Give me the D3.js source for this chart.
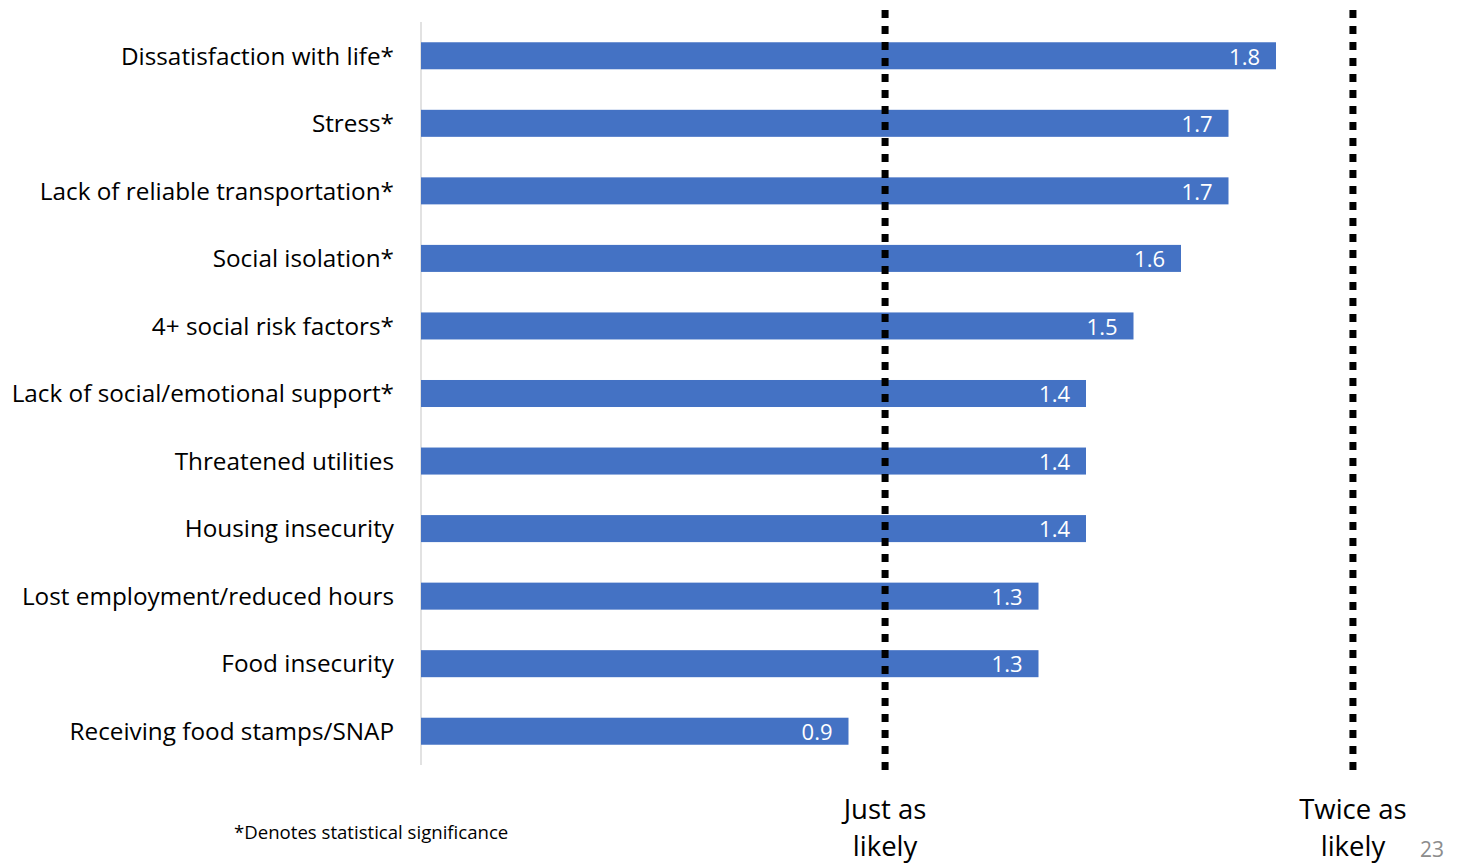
<!DOCTYPE html>
<html>
<head>
<meta charset="utf-8">
<script src="https://cdn.jsdelivr.net/npm/d3@7/dist/d3.min.js"></script>
<style>
  html, body { margin: 0; padding: 0; background: #fff; }
  svg { display: block; font-family: "Open Sans", Lato, sans-serif; }
</style>
</head>
<body>
<svg id="chart" width="1462" height="863"></svg>
<script>
// Odds ratios by social risk factor
const categories = [
  "Dissatisfaction with life*",
  "Stress*",
  "Lack of reliable transportation*",
  "Social isolation*",
  "4+ social risk factors*",
  "Lack of social/emotional support*",
  "Threatened utilities",
  "Housing insecurity",
  "Lost employment/reduced hours",
  "Food insecurity",
  "Receiving food stamps/SNAP"
];
const values = [1.8, 1.7, 1.7, 1.6, 1.5, 1.4, 1.4, 1.4, 1.3, 1.3, 0.9];

// Dotted reference markers and their captions
const refValues = [0.977, 1.962];
const refLabels = [["Just as", "likely"], ["Twice as", "likely"]];

const footnote = "*Denotes statistical significance";
const pageNumber = "23";

const svg = d3.select("#chart");

const x = d3.scaleLinear().domain([0, 2]).range([421, 1371]);
const y = d3.scaleBand().domain(categories).range([22, 765]).paddingInner(0.6).paddingOuter(0.3);

// vertical category axis line
svg.append("line")
  .attr("x1", x(0)).attr("x2", x(0))
  .attr("y1", 22).attr("y2", 765)
  .attr("stroke", "#d9d9d9").attr("stroke-width", 1.5);

// category labels
svg.append("g").selectAll("text")
  .data(categories)
  .join("text")
  .attr("x", 394)
  .attr("y", d => y(d) + y.bandwidth() / 2)
  .attr("dy", "0.36em")
  .attr("text-anchor", "end")
  .attr("font-size", 24.3)
  .attr("fill", "#000")
  .text(d => d);

// bars
const data = categories.map((c, i) => ({ c, v: values[i] }));
svg.append("g").selectAll("rect")
  .data(data)
  .join("rect")
  .attr("x", x(0))
  .attr("y", d => y(d.c))
  .attr("width", d => x(d.v) - x(0))
  .attr("height", y.bandwidth())
  .attr("fill", "#4472c4");

// value labels inside bar ends
svg.append("g").selectAll("text")
  .data(data)
  .join("text")
  .attr("x", d => x(d.v) - 16)
  .attr("y", d => y(d.c) + y.bandwidth() / 2)
  .attr("dy", "0.4em")
  .attr("text-anchor", "end")
  .attr("font-size", 22)
  .attr("fill", "#fff")
  .text(d => d.v.toFixed(1));

// dotted reference lines
svg.append("g").selectAll("line")
  .data(refValues)
  .join("line")
  .attr("x1", d => x(d)).attr("x2", d => x(d))
  .attr("y1", 10).attr("y2", 770)
  .attr("stroke", "#000")
  .attr("stroke-width", 7)
  .attr("stroke-dasharray", "8 8");

// reference captions
refValues.forEach((v, i) => {
  const t = svg.append("text")
    .attr("x", x(v))
    .attr("text-anchor", "middle")
    .attr("font-size", 27.5)
    .attr("fill", "#000");
  refLabels[i].forEach((line, j) => {
    t.append("tspan").attr("x", x(v)).attr("y", 819 + j * 37).text(line);
  });
});

// footnote
svg.append("text")
  .attr("x", 234).attr("y", 839)
  .attr("font-size", 18.6)
  .attr("fill", "#000")
  .text(footnote);

// page number
svg.append("text")
  .attr("x", 1432).attr("y", 857)
  .attr("text-anchor", "middle")
  .attr("font-size", 21)
  .attr("fill", "#8c8c8c")
  .text(pageNumber);
</script>
</body>
</html>
